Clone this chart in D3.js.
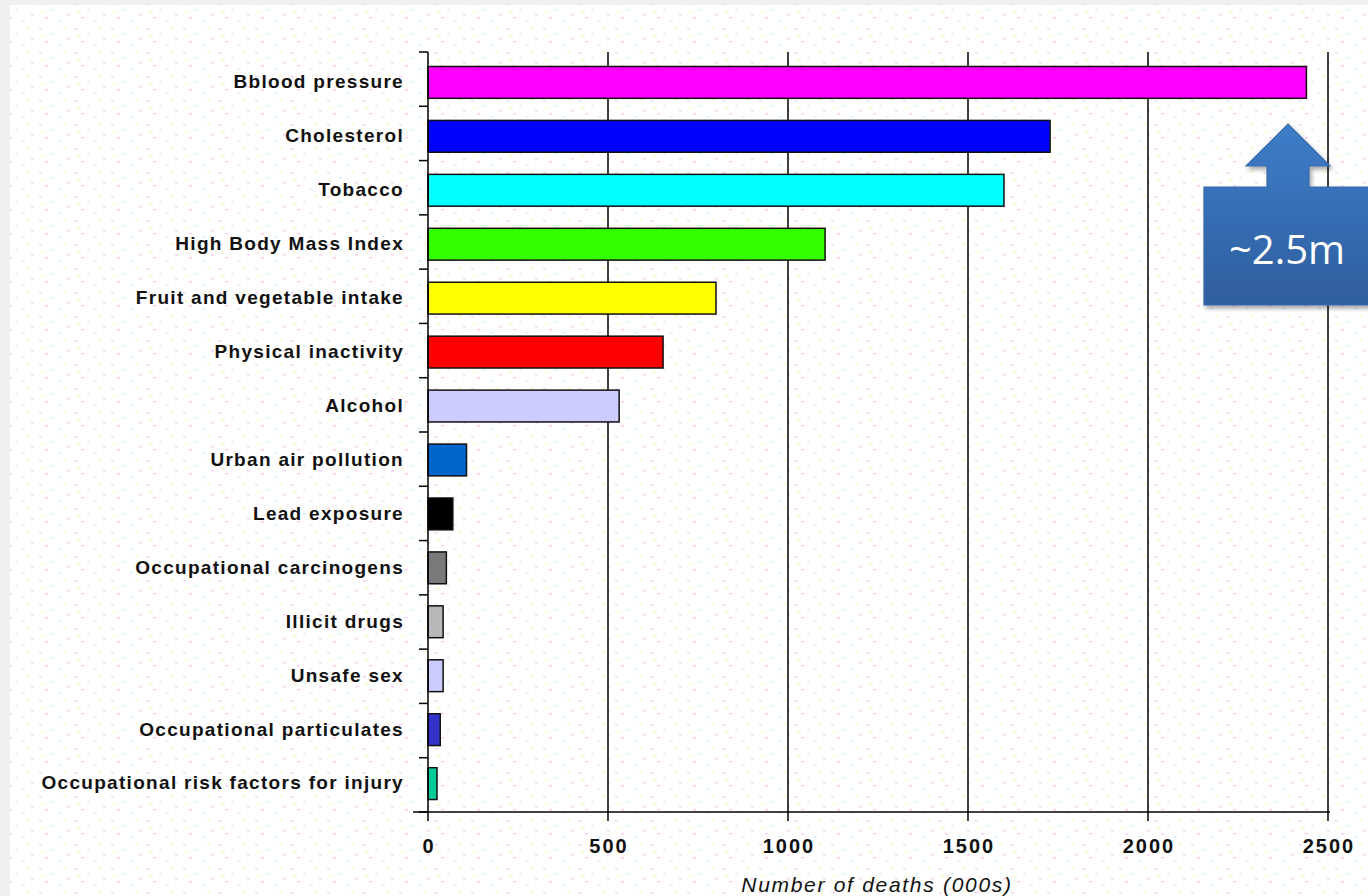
<!DOCTYPE html>
<html><head><meta charset="utf-8">
<script src="https://cdn.jsdelivr.net/npm/d3@7"></script>
<style>html,body{margin:0;padding:0;background:#f0f0f0;overflow:hidden}</style>
</head><body>
<script>
const categories = ["Bblood pressure","Cholesterol","Tobacco","High Body Mass Index","Fruit and vegetable intake","Physical inactivity","Alcohol","Urban air pollution","Lead exposure","Occupational carcinogens","Illicit drugs","Unsafe sex","Occupational particulates","Occupational risk factors for injury"];
const deaths = [2440,1728,1600,1103,800,653,531,107,69,51,42,42,34,25];
const barColors = ["#ff00ff","#0000ff","#00ffff","#33ff00","#ffff00","#ff0000","#ccccff","#0066cc","#000000","#7a7a7a","#b8b8b8","#ccccff","#3333cc","#00cc99"];
const xTicks = [0,500,1000,1500,2000,2500];
const xTitle = "Number of deaths (000s)";
const callout = "~2.5m";

const W=1368,H=896;
const svg=d3.select("body").append("svg").attr("width",W).attr("height",H);
const defs=svg.append("defs");

// background panel with faint dotted texture
const pat=defs.append("pattern").attr("id","dots").attr("patternUnits","userSpaceOnUse").attr("width",36).attr("height",24);
pat.append("rect").attr("width",36).attr("height",24).attr("fill","#fff");
[[3,4,"#fad2f4"],[15,9,"#d2f4fa"],[27,3,"#fcf6cc"],[9,17,"#fad2f4"],[22,20,"#d2f4fa"],[31,14,"#fad2f4"],[5,12,"#fcf6cc"]].forEach(d=>{
  pat.append("rect").attr("x",d[0]).attr("y",d[1]).attr("width",3).attr("height",1.5).attr("fill",d[2]);
});
svg.append("rect").attr("x",0).attr("y",0).attr("width",W).attr("height",H).attr("fill","#f0f0f0");
svg.append("rect").attr("x",10).attr("y",5).attr("width",W-10).attr("height",H-5).attr("fill","url(#dots)");

const x=d3.scaleLinear().domain([0,2500]).range([428,1328]);
const y=d3.scaleBand().domain(categories).range([52,812]).paddingInner(0.41).paddingOuter(0.25);

// grid lines
svg.append("g").selectAll("line").data(xTicks.slice(1)).join("line")
  .attr("x1",d=>x(d)).attr("x2",d=>x(d)).attr("y1",52).attr("y2",812)
  .attr("stroke","#000").attr("stroke-width",1.5);

// bars
svg.append("g").selectAll("rect").data(categories).join("rect")
  .attr("x",x(0)).attr("y",d=>y(d)+1).attr("width",(d,i)=>x(deaths[i])-x(0)).attr("height",y.bandwidth())
  .attr("fill",(d,i)=>barColors[i]).attr("stroke","#111").attr("stroke-width",1.5);

// y axis
const ax=svg.append("g").attr("stroke","#000").attr("stroke-width",1.5);
ax.append("line").attr("x1",428).attr("x2",428).attr("y1",52).attr("y2",812);
const step=(812-52)/categories.length;
ax.selectAll("line.t").data(d3.range(categories.length+1)).join("line").attr("class","t")
  .attr("x1",419).attr("x2",428).attr("y1",i=>52+i*step).attr("y2",i=>52+i*step);
// x axis
ax.append("line").attr("x1",413).attr("x2",1330).attr("y1",812).attr("y2",812);
ax.selectAll("line.xt").data(xTicks).join("line").attr("class","xt")
  .attr("x1",d=>x(d)).attr("x2",d=>x(d)).attr("y1",812).attr("y2",821);

// category labels
svg.append("g").selectAll("text").data(categories).join("text")
  .attr("x",404).attr("y",d=>y(d)+y.bandwidth()/2).attr("dy","0.36em")
  .attr("text-anchor","end").attr("font-family","Liberation Sans, Arial, sans-serif")
  .attr("font-weight","bold").attr("font-size",19).attr("letter-spacing","1.3px").attr("fill","#111")
  .text(d=>d);

// tick labels
svg.append("g").selectAll("text").data(xTicks).join("text")
  .attr("x",d=>x(d)+1).attr("y",846).attr("dy","0.36em").attr("text-anchor","middle")
  .attr("font-family","Liberation Sans, Arial, sans-serif").attr("font-weight","bold")
  .attr("font-size",20).attr("letter-spacing","2px").attr("fill","#111").text(d=>d);

svg.append("text").attr("x",877).attr("y",884).attr("dy","0.36em").attr("text-anchor","middle")
  .attr("font-family","Liberation Sans, Arial, sans-serif").attr("font-style","italic")
  .attr("font-size",21).attr("letter-spacing","1.7px").attr("fill","#111").text(xTitle);

// callout
const g=defs.append("linearGradient").attr("id","cg").attr("x1",0).attr("y1",0).attr("x2",0).attr("y2",1);
g.append("stop").attr("offset","0%").attr("stop-color","#3d7dc9");
g.append("stop").attr("offset","100%").attr("stop-color","#2f5e9e");
const f=defs.append("filter").attr("id","sh").attr("x","-10%").attr("y","-10%").attr("width","130%").attr("height","130%");
f.append("feDropShadow").attr("dx",2).attr("dy",3).attr("stdDeviation",2).attr("flood-color","#000").attr("flood-opacity",0.35);
svg.append("path").attr("filter","url(#sh)")
  .attr("d",`M1204,187 L1267,187 L1267,166 L1246,166 L1288,124 L1330,166 L1309,166 L1309,187 L1372,187 L1372,305 L1204,305 Z`)
  .attr("fill","url(#cg)").attr("stroke","#3a6aa8").attr("stroke-width",1.2);
svg.append("text").attr("x",1287).attr("y",264).attr("text-anchor","middle")
  .attr("font-family","Open Sans, Noto Sans, sans-serif").attr("font-size",40).attr("fill","#fff").text(callout);
</script>
</body></html>
